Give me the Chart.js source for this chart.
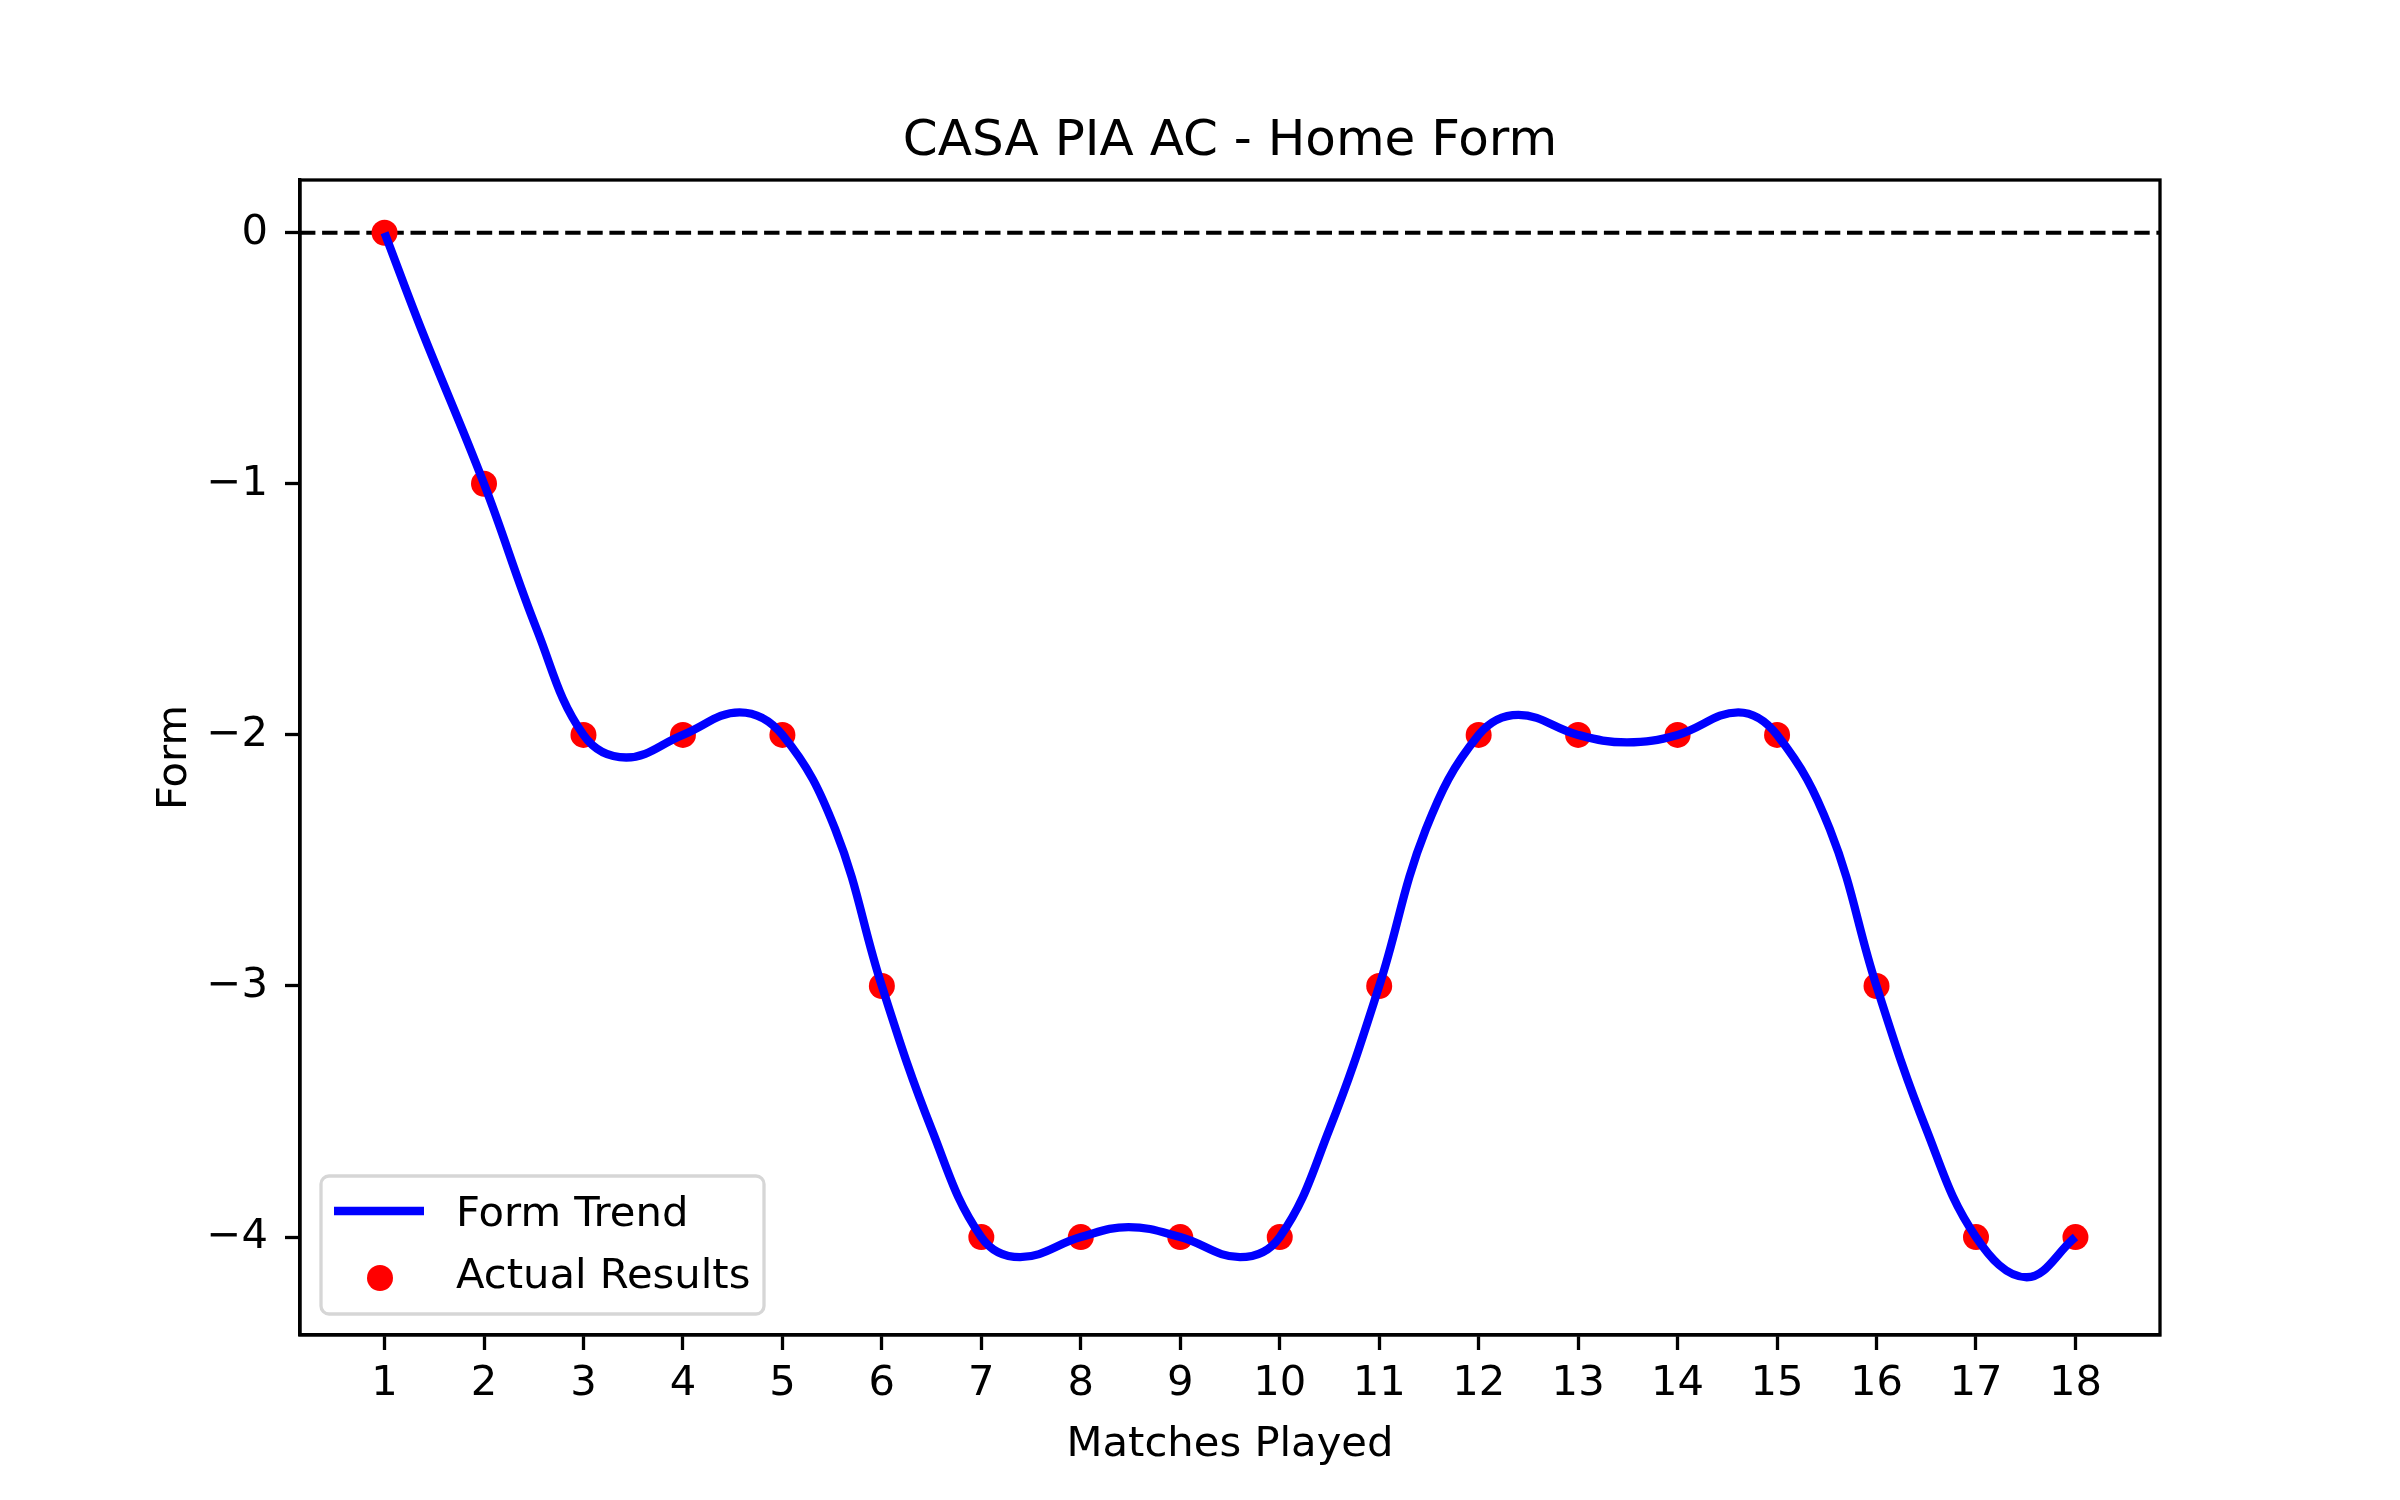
<!DOCTYPE html>
<html>
<head>
<meta charset="utf-8">
<script src="https://cdn.jsdelivr.net/npm/chart.js@4.4.1/dist/chart.umd.min.js"></script>
<style>
  html, body { margin: 0; padding: 0; background: #ffffff; }
  #wrap { width: 2400px; height: 1500px; }
</style>
</head>
<body>
<div id="wrap"><canvas id="formChart" width="2400" height="1500"></canvas></div>
<script>
// match results (cumulative form) per home match
const matches = [1, 2, 3, 4, 5, 6, 7, 8, 9, 10, 11, 12, 13, 14, 15, 16, 17, 18];
const formValues = [0, -1, -2, -2, -2, -3, -4, -4, -4, -4, -3, -2, -2, -2, -2, -3, -4, -4];

// smoothed trend (data points plus its bumps, dips and slopes)
const trendX = [1, 1.37, 2, 2.53, 3, 3.43, 4, 4.57, 5, 5.53, 6, 6.5, 7, 7.39, 8, 8.48, 9, 9.6, 10,
  10.5, 11, 11.47, 12, 12.4, 13, 13.49, 14, 14.61, 15, 15.53, 16, 16.5, 17, 17.51, 18];
const trendY = [0, -0.385, -1, -1.579, -2, -2.09, -2, -1.91, -2, -2.375, -3, -3.57, -4, -4.08, -4, -3.96, -4, -4.08, -4,
  -3.57, -3, -2.375, -2, -1.92, -2, -2.03, -2, -1.91, -2, -2.375, -3, -3.57, -4, -4.16, -4];

const xTicks = matches;
const yTicks = [0, -1, -2, -3, -4];

const FONT = "'DejaVu Sans', sans-serif";
const LW = 3.3;

function minusLabel(v) {
  return v < 0 ? '\u2212' + Math.abs(v) : String(v);
}

// frame, zero line, titles and legend like the matplotlib figure
const decorations = {
  id: 'decorations',
  beforeDatasetsDraw(chart) {
    const { ctx, chartArea: a, scales } = chart;
    const y0 = scales.y.getPixelForValue(0);
    ctx.save();
    ctx.strokeStyle = '#000000';
    ctx.lineWidth = 4.2;
    ctx.setLineDash([15.4, 6.7]);
    ctx.beginPath();
    ctx.moveTo(a.left, y0);
    ctx.lineTo(a.right, y0);
    ctx.stroke();
    ctx.restore();
  },
  afterDraw(chart) {
    const { ctx, chartArea: a } = chart;
    ctx.save();
    ctx.strokeStyle = '#000000';
    ctx.lineWidth = LW;
    ctx.strokeRect(a.left, a.top, a.right - a.left, a.bottom - a.top);

    ctx.fillStyle = '#000000';
    ctx.textAlign = 'center';
    ctx.textBaseline = 'alphabetic';
    ctx.font = '50px ' + FONT;
    ctx.fillText('CASA PIA AC - Home Form', (a.left + a.right) / 2, 155);

    ctx.font = '41.7px ' + FONT;
    ctx.fillText('Matches Played', (a.left + a.right) / 2, 1456);

    ctx.save();
    ctx.translate(186, (a.top + a.bottom) / 2);
    ctx.rotate(-Math.PI / 2);
    ctx.fillText('Form', 0, 0);
    ctx.restore();

    // legend box
    const bx = 321, by = 1176, bw = 443, bh = 138, r = 8;
    ctx.beginPath();
    ctx.moveTo(bx + r, by);
    ctx.arcTo(bx + bw, by, bx + bw, by + bh, r);
    ctx.arcTo(bx + bw, by + bh, bx, by + bh, r);
    ctx.arcTo(bx, by + bh, bx, by, r);
    ctx.arcTo(bx, by, bx + bw, by, r);
    ctx.closePath();
    ctx.fillStyle = 'rgba(255,255,255,0.8)';
    ctx.fill();
    ctx.strokeStyle = '#d6d6d6';
    ctx.lineWidth = LW;
    ctx.stroke();

    ctx.strokeStyle = '#0000ff';
    ctx.lineWidth = 8.3;
    ctx.beginPath();
    ctx.moveTo(334, 1211);
    ctx.lineTo(424, 1211);
    ctx.stroke();

    ctx.fillStyle = '#ff0000';
    ctx.beginPath();
    ctx.arc(380, 1278, 13, 0, Math.PI * 2);
    ctx.fill();

    ctx.fillStyle = '#000000';
    ctx.textAlign = 'left';
    ctx.font = '41.7px ' + FONT;
    ctx.fillText('Form Trend', 456, 1226);
    ctx.fillText('Actual Results', 456, 1288);
    ctx.restore();
  }
};

const ctx = document.getElementById('formChart');
const chartForm = new Chart(ctx, {
  type: 'scatter',
  data: {
    datasets: [
      {
        label: 'Form Trend',
        data: trendX.map((x, i) => ({ x: x, y: trendY[i] })),
        showLine: true,
        borderColor: '#0000ff',
        borderWidth: 8.3,
        tension: 0.4,
        pointRadius: 0,
        fill: false
      },
      {
        label: 'Actual Results',
        data: matches.map((m, i) => ({ x: m, y: formValues[i] })),
        backgroundColor: '#ff0000',
        borderWidth: 0,
        pointRadius: 13
      }
    ]
  },
  options: {
    responsive: false,
    animation: false,
    devicePixelRatio: 1,
    layout: { padding: { left: 0, top: 180, right: 240, bottom: 0 } },
    plugins: {
      legend: { display: false },
      tooltip: { enabled: false }
    },
    scales: {
      x: {
        type: 'linear',
        min: 0.15,
        max: 18.85,
        afterBuildTicks: (scale) => { scale.ticks = xTicks.map(v => ({ value: v })); },
        afterFit: (scale) => { scale.height = 165; },
        grid: { drawOnChartArea: false, drawTicks: true, tickLength: 15, tickWidth: LW, tickColor: '#000000' },
        border: { display: true, color: '#000000', width: LW },
        ticks: { color: '#000000', font: { family: FONT, size: 41.7 }, padding: 9, maxRotation: 0, autoSkip: false }
      },
      y: {
        type: 'linear',
        min: -4.39,
        max: 0.21,
        afterBuildTicks: (scale) => { scale.ticks = yTicks.map(v => ({ value: v })); },
        afterFit: (scale) => { scale.width = 300; },
        grid: { drawOnChartArea: false, drawTicks: true, tickLength: 15, tickWidth: LW, tickColor: '#000000' },
        border: { display: true, color: '#000000', width: LW },
        ticks: { color: '#000000', font: { family: FONT, size: 41.7 }, padding: 17, autoSkip: false, callback: (v) => minusLabel(v) }
      }
    }
  },
  plugins: [decorations]
});
</script>
</body>
</html>
